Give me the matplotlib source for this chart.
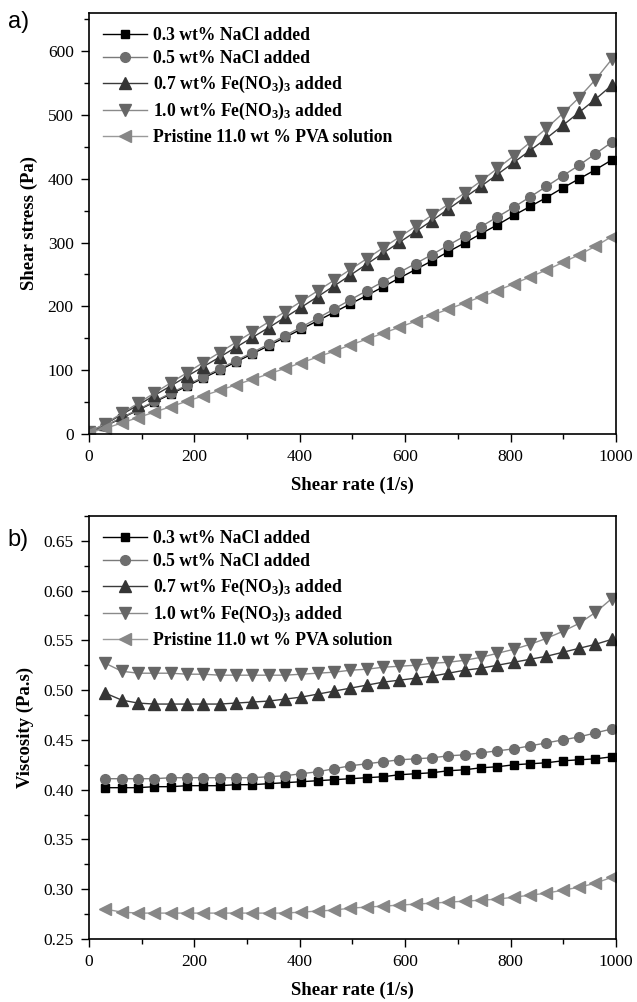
import matplotlib
matplotlib.use("Agg")
import matplotlib.pyplot as plt
from matplotlib.ticker import MultipleLocator, FormatStrFormatter

plt.rcParams['font.family'] = ['Liberation Serif', 'DejaVu Serif']
plt.rcParams['mathtext.default'] = 'regular'

# shear rate (1/s)
rate_a = [0, 31, 62, 93, 124, 155, 186, 217, 248, 279, 310, 341, 372, 403, 434, 465,
          496, 527, 558, 589, 620, 651, 682, 713, 744, 775, 806, 837, 868, 899, 930, 961, 992]
rate_b = rate_a[1:]

labels = ["0.3 wt% NaCl added",
          "0.5 wt% NaCl added",
          "0.7 wt% Fe(NO$_3$)$_3$ added",
          "1.0 wt% Fe(NO$_3$)$_3$ added",
          "Pristine 11.0 wt % PVA solution"]

# shear stress (Pa)
stress_nacl03 = [2, 12.5, 24.9, 37.4, 50.0, 62.5, 75.1, 87.7, 100.2, 113.0, 125.6, 138.4, 151.4,
                 164.4, 177.5, 190.7, 203.9, 217.1, 230.5, 244.4, 257.9, 271.5, 285.8, 299.5,
                 314.0, 327.8, 342.6, 356.6, 370.6, 385.7, 399.9, 414.2, 429.5]
stress_nacl05 = [2, 12.7, 25.5, 38.2, 51.0, 63.9, 76.6, 89.4, 102.2, 114.9, 127.7, 140.8, 154.0,
                 167.6, 181.4, 195.8, 210.3, 224.5, 238.8, 253.3, 267.2, 281.2, 296.0, 310.2,
                 325.1, 340.2, 355.4, 371.6, 388.0, 404.6, 421.3, 439.2, 457.3]
stress_fe07 = [3, 15.4, 30.4, 45.3, 60.3, 75.3, 90.4, 105.5, 120.5, 135.9, 151.3, 166.7, 182.7,
               198.7, 215.3, 232.0, 249.0, 266.1, 283.5, 300.4, 317.4, 334.6, 352.6, 370.8,
               388.4, 406.9, 425.6, 444.4, 463.5, 483.7, 504.1, 524.7, 546.6]
stress_fe10 = [3, 16.3, 32.2, 48.1, 64.1, 80.1, 96.0, 112.0, 127.7, 143.7, 159.7, 175.6, 191.6,
               207.9, 224.4, 240.9, 257.9, 274.6, 291.8, 308.6, 325.5, 343.1, 360.1, 377.9,
               396.6, 416.2, 436.0, 457.0, 479.1, 502.5, 527.3, 555.5, 587.3]
stress_pva = [2, 8.7, 17.2, 25.7, 34.2, 42.8, 51.3, 59.9, 68.4, 77.0, 85.6, 94.1, 102.7,
              111.6, 120.7, 129.7, 139.4, 148.6, 157.9, 167.3, 176.7, 186.2, 195.7, 205.3,
              215.0, 224.8, 235.4, 246.1, 256.9, 268.8, 280.9, 294.1, 309.5]

# viscosity (Pa.s)
visc_nacl03 = [0.402, 0.402, 0.402, 0.403, 0.403, 0.404, 0.404, 0.404, 0.405, 0.405, 0.406, 0.407,
               0.408, 0.409, 0.410, 0.411, 0.412, 0.413, 0.415, 0.416, 0.417, 0.419, 0.420, 0.422,
               0.423, 0.425, 0.426, 0.427, 0.429, 0.430, 0.431, 0.433]
visc_nacl05 = [0.411, 0.411, 0.411, 0.411, 0.412, 0.412, 0.412, 0.412, 0.412, 0.412, 0.413, 0.414,
               0.416, 0.418, 0.421, 0.424, 0.426, 0.428, 0.430, 0.431, 0.432, 0.434, 0.435, 0.437,
               0.439, 0.441, 0.444, 0.447, 0.450, 0.453, 0.457, 0.461]
visc_fe07 = [0.497, 0.490, 0.487, 0.486, 0.486, 0.486, 0.486, 0.486, 0.487, 0.488, 0.489, 0.491,
             0.493, 0.496, 0.499, 0.502, 0.505, 0.508, 0.510, 0.512, 0.514, 0.517, 0.520, 0.522,
             0.525, 0.528, 0.531, 0.534, 0.538, 0.542, 0.546, 0.551]
visc_fe10 = [0.527, 0.519, 0.517, 0.517, 0.517, 0.516, 0.516, 0.515, 0.515, 0.515, 0.515, 0.515,
             0.516, 0.517, 0.518, 0.520, 0.521, 0.523, 0.524, 0.525, 0.527, 0.528, 0.530, 0.533,
             0.537, 0.541, 0.546, 0.552, 0.559, 0.567, 0.578, 0.592]
visc_pva = [0.280, 0.277, 0.276, 0.276, 0.276, 0.276, 0.276, 0.276, 0.276, 0.276, 0.276, 0.276,
            0.277, 0.278, 0.279, 0.281, 0.282, 0.283, 0.284, 0.285, 0.286, 0.287, 0.288, 0.289,
            0.290, 0.292, 0.294, 0.296, 0.299, 0.302, 0.306, 0.312]

markers = ['s', 'o', '^', 'v', '<']
mcolors = ['#000000', '#6e6e6e', '#353535', '#666666', '#878787']
lcolors = ['#000000', '#7a7a7a', '#3a3a3a', '#8a8a8a', '#9a9a9a']
msizes = [6, 7, 8, 8, 8]

fig = plt.figure(figsize=(6.37, 10.02), dpi=100)
ax_a = fig.add_axes([0.1397, 0.5669, 0.8273, 0.4202])
ax_b = fig.add_axes([0.1397, 0.0629, 0.8273, 0.4222])


def draw_panel(ax, x, series):
    for i, y in enumerate(series):
        ax.plot(x, y, marker=markers[i], color=lcolors[i], mfc=mcolors[i], mec=mcolors[i],
                ms=msizes[i], lw=1.0, label=labels[i])
    ax.set_xlim(0, 1000)
    ax.xaxis.set_major_locator(MultipleLocator(200))
    ax.xaxis.set_minor_locator(MultipleLocator(100))
    ax.tick_params(which='both', direction='out', top=False, right=False, labelsize=12.5,
                   width=1, pad=5)
    ax.tick_params(which='major', length=6)
    ax.tick_params(which='minor', length=3.5)
    for s in ax.spines.values():
        s.set_linewidth(1.2)
    ax.set_xlabel("Shear rate (1/s)", fontsize=13.5, fontweight='bold', labelpad=8)
    leg = ax.legend(loc='upper left', frameon=False, handlelength=2.5, handletextpad=0.35,
                    labelspacing=0.36, borderaxespad=0.4,
                    prop={'weight': 'bold', 'size': 12.7})
    return leg


draw_panel(ax_a, rate_a, [stress_nacl03, stress_nacl05, stress_fe07, stress_fe10, stress_pva])
ax_a.set_ylim(0, 660)
ax_a.yaxis.set_major_locator(MultipleLocator(100))
ax_a.yaxis.set_minor_locator(MultipleLocator(50))
ax_a.set_ylabel("Shear stress (Pa)", fontsize=13.5, fontweight='bold', labelpad=7)

draw_panel(ax_b, rate_b, [visc_nacl03, visc_nacl05, visc_fe07, visc_fe10, visc_pva])
ax_b.set_ylim(0.25, 0.675)
ax_b.yaxis.set_major_locator(MultipleLocator(0.05))
ax_b.yaxis.set_minor_locator(MultipleLocator(0.025))
ax_b.yaxis.set_major_formatter(FormatStrFormatter('%.2f'))
ax_b.set_ylabel("Viscosity (Pa.s)", fontsize=13.5, fontweight='bold', labelpad=7)

fig.text(0.012, 0.978, "a)", fontsize=17, family='Liberation Sans', va='center')
fig.text(0.012, 0.461, "b)", fontsize=17, family='Liberation Sans', va='center')

fig.savefig("out.png", dpi=100)
